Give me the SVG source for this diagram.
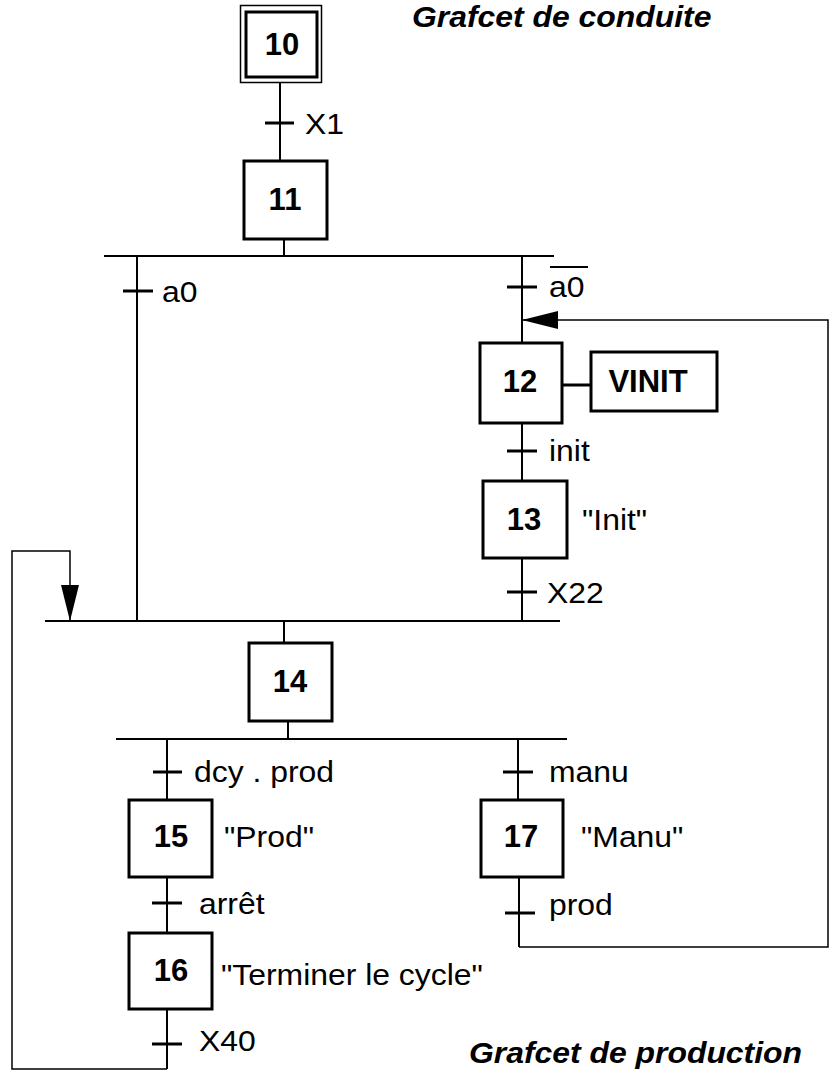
<svg xmlns="http://www.w3.org/2000/svg" width="836" height="1070" viewBox="0 0 836 1070">
<style>
.step{fill:#fff;stroke:#000;stroke-width:3}
.thin{fill:none;stroke:#000;stroke-width:1.5}
.ln{fill:none;stroke:#000;stroke-width:2}
.bar{stroke:#000;stroke-width:3}
.num{font-family:"Liberation Sans",Arial,sans-serif;font-weight:bold;font-size:31px;text-anchor:middle}
.lbl{font-family:"Liberation Sans",Arial,sans-serif;font-size:29px}
.title{font-family:"Liberation Sans",Arial,sans-serif;font-weight:bold;font-style:italic;font-size:29px}
</style>
<defs>
<marker id="av" markerWidth="36" markerHeight="18" viewBox="0 0 36 18" refX="36" refY="9" orient="auto" markerUnits="userSpaceOnUse">
<path d="M0,0 L36,9 L0,18 Z" fill="#000"/>
</marker>
</defs>

<g id="connectors">
<line class="ln" x1="280" y1="83" x2="280" y2="161"/>
<line class="bar" x1="265" y1="123" x2="294" y2="123"/>
<line class="ln" x1="284" y1="239" x2="284" y2="256"/>
<line class="ln" x1="104" y1="256" x2="554" y2="256"/>
<line class="ln" x1="137" y1="256" x2="137" y2="621"/>
<line class="bar" x1="123" y1="291" x2="153" y2="291"/>
<line class="ln" x1="522" y1="256" x2="522" y2="343"/>
<line class="bar" x1="507" y1="287" x2="537" y2="287"/>
<line class="bar" x1="562" y1="385" x2="591" y2="385"/>
<line class="ln" x1="522" y1="423" x2="522" y2="481"/>
<line class="bar" x1="507" y1="451" x2="537" y2="451"/>
<line class="ln" x1="522" y1="558" x2="522" y2="621"/>
<line class="bar" x1="507" y1="592" x2="537" y2="592"/>
<line class="ln" x1="45" y1="621" x2="560" y2="621"/>
<line class="ln" x1="284" y1="621" x2="284" y2="643"/>
<line class="ln" x1="288" y1="721" x2="288" y2="739"/>
<line class="ln" x1="116" y1="739" x2="567" y2="739"/>
<line class="ln" x1="167" y1="739" x2="167" y2="800"/>
<line class="bar" x1="153" y1="772" x2="182" y2="772"/>
<line class="ln" x1="167" y1="877" x2="167" y2="933"/>
<line class="bar" x1="152" y1="903" x2="182" y2="903"/>
<line class="ln" x1="167" y1="1009" x2="167" y2="1069"/>
<line class="bar" x1="152" y1="1044" x2="182" y2="1044"/>
<polyline class="thin" points="167,1069 12,1069 12,551 70,551 70,621" marker-end="url(#av)"/>
<line class="ln" x1="518" y1="739" x2="518" y2="800"/>
<line class="bar" x1="503" y1="772" x2="533" y2="772"/>
<line class="ln" x1="519" y1="877" x2="519" y2="947"/>
<line class="bar" x1="505" y1="913" x2="535" y2="913"/>
<polyline class="thin" points="519,947 828,947 828,320 522,320" marker-end="url(#av)"/>
</g>

<g id="step10">
<rect x="240.5" y="5.5" width="81" height="77" fill="#fff" stroke="#000" stroke-width="1.5"/>
<rect x="246" y="12" width="71" height="65" class="step"/>
<text x="282" y="55" class="num">10</text>
</g>
<g id="step11">
<rect x="244" y="161" width="83" height="78" class="step"/>
<text x="285" y="210" class="num">11</text>
</g>
<g id="step12">
<rect x="480" y="343" width="82" height="80" class="step"/>
<text x="520" y="392" class="num">12</text>
</g>
<g id="action12">
<rect x="591" y="352" width="126" height="59" class="step"/>
<text x="648" y="392" class="num">VINIT</text>
</g>
<g id="step13">
<rect x="483" y="481" width="84" height="77" class="step"/>
<text x="524" y="530" class="num">13</text>
</g>
<g id="step14">
<rect x="249" y="643" width="83" height="78" class="step"/>
<text x="290" y="692" class="num">14</text>
</g>
<g id="step15">
<rect x="129" y="800" width="83" height="77" class="step"/>
<text x="171" y="847" class="num">15</text>
</g>
<g id="step16">
<rect x="129" y="933" width="83" height="76" class="step"/>
<text x="171" y="981" class="num">16</text>
</g>
<g id="step17">
<rect x="481" y="800" width="82" height="77" class="step"/>
<text x="521" y="847" class="num">17</text>
</g>

<g id="labels">
<text transform="translate(305 134) scale(1.1 1)" class="lbl">X1</text>
<text transform="translate(162 302) scale(1.1 1)" class="lbl">a0</text>
<text transform="translate(549 297) scale(1.1 1)" class="lbl">a0</text>
<line x1="550" y1="267" x2="588" y2="267" stroke="#000" stroke-width="2"/>
<text transform="translate(549 461) scale(1.1 1)" class="lbl">init</text>
<text transform="translate(582 530) scale(1.1 1)" class="lbl">"Init"</text>
<text transform="translate(547 603) scale(1.1 1)" class="lbl">X22</text>
<text transform="translate(194 782) scale(1.1 1)" class="lbl">dcy . prod</text>
<text transform="translate(549 782) scale(1.1 1)" class="lbl">manu</text>
<text transform="translate(224 847) scale(1.1 1)" class="lbl">"Prod"</text>
<text transform="translate(581 847) scale(1.1 1)" class="lbl">"Manu"</text>
<text transform="translate(199 914) scale(1.1 1)" class="lbl">arrêt</text>
<text transform="translate(549 915) scale(1.1 1)" class="lbl">prod</text>
<text transform="translate(221 985) scale(1.1 1)" class="lbl">"Terminer le cycle"</text>
<text transform="translate(199 1051) scale(1.1 1)" class="lbl">X40</text>
<text transform="translate(412 27) scale(1.1 1)" class="title">Grafcet de conduite</text>
<text transform="translate(469 1063) scale(1.1 1)" class="title">Grafcet de production</text>
</g>
</svg>
